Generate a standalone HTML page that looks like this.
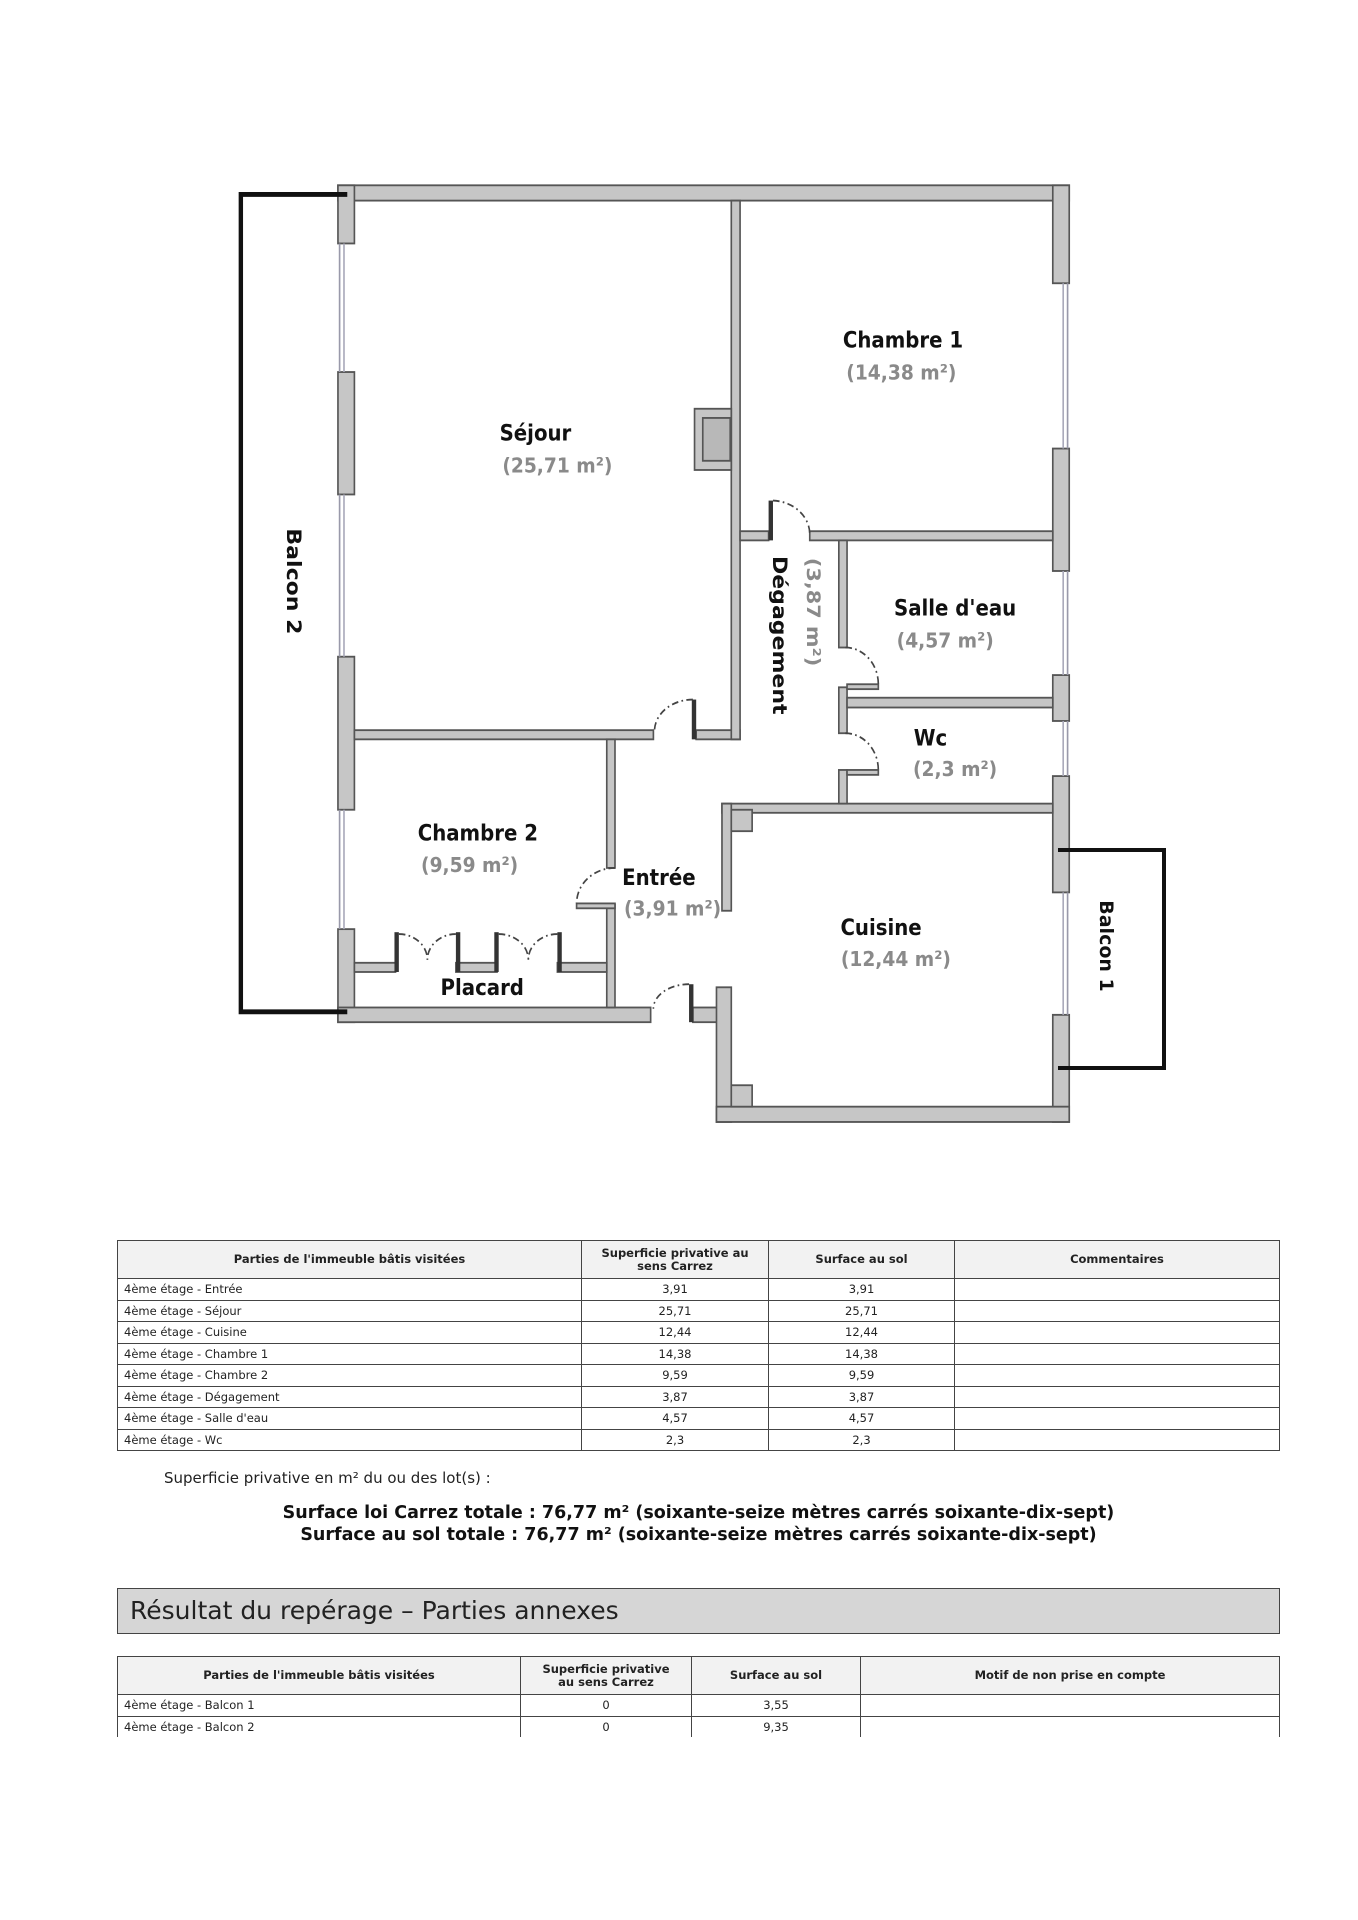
<!DOCTYPE html>
<html><head><meta charset="utf-8"><style>
html,body{margin:0;padding:0;background:#fff;}
body{width:1358px;height:1920px;position:relative;overflow:hidden;font-family:"DejaVu Sans","Liberation Sans",sans-serif;}
svg.plan{position:absolute;left:0;top:0;}
table{position:absolute;border-collapse:collapse;font-size:11.5px;color:#222;table-layout:fixed;}
td,th{border:1.5px solid #444;padding:0 6px;height:20.5px;white-space:nowrap;}
th{background:#f2f2f2;font-weight:bold;font-size:11.5px;height:37px;line-height:13px;}
td.c{text-align:center;}
.txt{position:absolute;color:#222;}
</style></head><body>
<svg class="plan" width="1358" height="1140" viewBox="0 0 1358 1140">
<g transform="translate(220,170) scale(0.5486,0.6122)" font-family="'DejaVu Sans','Liberation Sans',sans-serif">
<g fill="#c6c6c6" stroke="#555" stroke-width="3">
<rect x="215" y="25" width="1333" height="25"/>
<rect x="215" y="25" width="30" height="95"/>
<rect x="215" y="330" width="30" height="200"/>
<rect x="215" y="795" width="30" height="250"/>
<rect x="215" y="1240" width="30" height="152"/>
<rect x="1518" y="25" width="30" height="160"/>
<rect x="1518" y="455" width="30" height="200"/>
<rect x="1518" y="825" width="30" height="75"/>
<rect x="1518" y="990" width="30" height="190"/>
<rect x="1518" y="1380" width="30" height="175"/>
<rect x="215" y="1368" width="570" height="24"/>
<rect x="862" y="1368" width="60" height="24"/>
<rect x="905" y="1335" width="27" height="220"/>
<rect x="905" y="1530" width="643" height="25"/>
<rect x="915" y="1035" width="603" height="15"/>
<rect x="915" y="1035" width="17" height="175"/>
<rect x="932" y="1045" width="38" height="35"/>
<rect x="932" y="1495" width="38" height="35"/>
<rect x="245" y="915" width="545" height="15"/>
<rect x="868" y="915" width="80" height="15"/>
<rect x="932" y="50" width="16" height="880"/>
<rect x="865" y="390" width="67" height="100"/>
<rect x="880" y="405" width="50" height="70" fill="#b8b8b8"/>
<rect x="948" y="590" width="52" height="15"/>
<rect x="1075" y="590" width="443" height="15"/>
<rect x="1128" y="605" width="15" height="175"/>
<rect x="1128" y="845" width="15" height="75"/>
<rect x="1128" y="980" width="15" height="55"/>
<rect x="1143" y="862" width="375" height="16"/>
<rect x="705" y="930" width="15" height="210"/>
<rect x="705" y="1200" width="15" height="168"/>
<rect x="245" y="1295" width="75" height="15"/>
<rect x="430" y="1295" width="75" height="15"/>
<rect x="615" y="1295" width="90" height="15"/>
<rect x="1143" y="840" width="57" height="8"/>
<rect x="1143" y="980" width="57" height="8"/>
<rect x="650" y="1198" width="70" height="8"/>
</g>
<g fill="#333">
<rect x="855" y="1330" width="8" height="62"/>
<rect x="860" y="865" width="8" height="65"/>
<rect x="1000" y="540" width="8" height="65"/>
<rect x="318" y="1245" width="8" height="65"/>
<rect x="430" y="1245" width="8" height="65"/>
<rect x="500" y="1245" width="8" height="65"/>
<rect x="615" y="1245" width="8" height="65"/>
</g>
<g stroke="#99a" stroke-width="3">
<line x1="218" y1="120" x2="218" y2="330"/><line x1="218" y1="530" x2="218" y2="795"/><line x1="218" y1="1045" x2="218" y2="1240"/>
<line x1="1545" y1="185" x2="1545" y2="455"/><line x1="1545" y1="655" x2="1545" y2="825"/><line x1="1545" y1="900" x2="1545" y2="990"/><line x1="1545" y1="1180" x2="1545" y2="1380"/>
</g>
<g stroke="#aab" stroke-width="3">
<line x1="226" y1="120" x2="226" y2="330"/><line x1="226" y1="530" x2="226" y2="795"/><line x1="226" y1="1045" x2="226" y2="1240"/>
<line x1="1537" y1="185" x2="1537" y2="455"/><line x1="1537" y1="655" x2="1537" y2="825"/><line x1="1537" y1="900" x2="1537" y2="990"/><line x1="1537" y1="1180" x2="1537" y2="1380"/>
</g>
<g fill="none" stroke="#444" stroke-width="3" stroke-dasharray="12,6,3,6">
<path d="M862,865 A70,52 0 0 0 792,915"/>
<path d="M1008,540 A70,55 0 0 1 1075,595"/>
<path d="M1140,780 A60,60 0 0 1 1200,840"/>
<path d="M1140,920 A60,60 0 0 1 1200,980"/>
<path d="M720,1140 A70,58 0 0 0 650,1198"/>
<path d="M855,1330 A65,40 0 0 0 790,1370"/>
<path d="M326,1248 A52,42 0 0 1 378,1290"/><path d="M430,1248 A52,42 0 0 0 378,1290"/>
<path d="M508,1248 A54,42 0 0 1 562,1290"/><path d="M615,1248 A53,42 0 0 0 562,1290"/>
</g>
<path d="M232,40 H38 V1375 H232" fill="none" stroke="#111" stroke-width="8"/>
<g font-weight="bold" font-size="36" fill="#111" text-anchor="middle">
<text x="575" y="442">Séjour</text>
<text x="1245" y="290">Chambre 1</text>
<text x="1340" y="728">Salle d'eau</text>
<text x="1295" y="940">Wc</text>
<text x="470" y="1095">Chambre 2</text>
<text x="800" y="1168">Entrée</text>
<text x="1205" y="1250">Cuisine</text>
<text x="478" y="1348">Placard</text>
<text transform="translate(1008,760) rotate(90)">Dégagement</text>
<text transform="translate(122,672) rotate(90)">Balcon 2</text>
</g>
<g font-weight="bold" font-size="34" fill="#8a8a8a" text-anchor="middle">
<text x="615" y="494">(25,71 m²)</text>
<text x="1242" y="342">(14,38 m²)</text>
<text x="1322" y="780">(4,57 m²)</text>
<text x="1340" y="990">(2,3 m²)</text>
<text x="455" y="1147">(9,59 m²)</text>
<text x="825" y="1218">(3,91 m²)</text>
<text x="1232" y="1300">(12,44 m²)</text>
<text transform="translate(1070,722) rotate(90)">(3,87 m²)</text>
</g>
</g>
<path d="M1058,850 H1164 V1068 H1058" fill="none" stroke="#111" stroke-width="4"/>
<text transform="translate(1100,946) rotate(90)" font-family="'DejaVu Sans',sans-serif" font-weight="bold" font-size="19" fill="#111" text-anchor="middle">Balcon 1</text>
</svg>

<table style="left:117px;top:1240px;width:1163px;">
<colgroup><col style="width:464px"><col style="width:187px"><col style="width:186px"><col></colgroup>
<tr><th>Parties de l'immeuble bâtis visitées</th><th>Superficie privative au<br>sens Carrez</th><th>Surface au sol</th><th>Commentaires</th></tr>
<tr><td>4ème étage - Entrée</td><td class="c">3,91</td><td class="c">3,91</td><td></td></tr>
<tr><td>4ème étage - Séjour</td><td class="c">25,71</td><td class="c">25,71</td><td></td></tr>
<tr><td>4ème étage - Cuisine</td><td class="c">12,44</td><td class="c">12,44</td><td></td></tr>
<tr><td>4ème étage - Chambre 1</td><td class="c">14,38</td><td class="c">14,38</td><td></td></tr>
<tr><td>4ème étage - Chambre 2</td><td class="c">9,59</td><td class="c">9,59</td><td></td></tr>
<tr><td>4ème étage - Dégagement</td><td class="c">3,87</td><td class="c">3,87</td><td></td></tr>
<tr><td>4ème étage - Salle d'eau</td><td class="c">4,57</td><td class="c">4,57</td><td></td></tr>
<tr><td>4ème étage - Wc</td><td class="c">2,3</td><td class="c">2,3</td><td></td></tr>
</table>

<div class="txt" style="left:164px;top:1469px;font-size:15px;">Superficie privative en m² du ou des lot(s) :</div>
<div class="txt" style="left:117px;width:1163px;top:1502px;text-align:center;font-size:17.5px;font-weight:bold;line-height:22px;color:#111;">Surface loi Carrez totale : 76,77 m² (soixante-seize mètres carrés soixante-dix-sept)<br>Surface au sol totale : 76,77 m² (soixante-seize mètres carrés soixante-dix-sept)</div>

<div class="txt" style="left:117px;top:1588px;height:46px;background:#d6d6d6;border:1.5px solid #444;font-family:'DejaVu Sans',sans-serif;font-size:25px;line-height:44px;padding-left:12px;box-sizing:border-box;width:1163px;">Résultat du repérage – Parties annexes</div>

<table style="left:117px;top:1656px;width:1163px;">
<colgroup><col style="width:403px"><col style="width:171px"><col style="width:169px"><col></colgroup>
<tr><th>Parties de l'immeuble bâtis visitées</th><th>Superficie privative<br>au sens Carrez</th><th>Surface au sol</th><th>Motif de non prise en compte</th></tr>
<tr><td>4ème étage - Balcon 1</td><td class="c">0</td><td class="c">3,55</td><td></td></tr>
<tr><td style="border-bottom:none">4ème étage - Balcon 2</td><td class="c" style="border-bottom:none">0</td><td class="c" style="border-bottom:none">9,35</td><td style="border-bottom:none"></td></tr>
</table>
</body></html>
